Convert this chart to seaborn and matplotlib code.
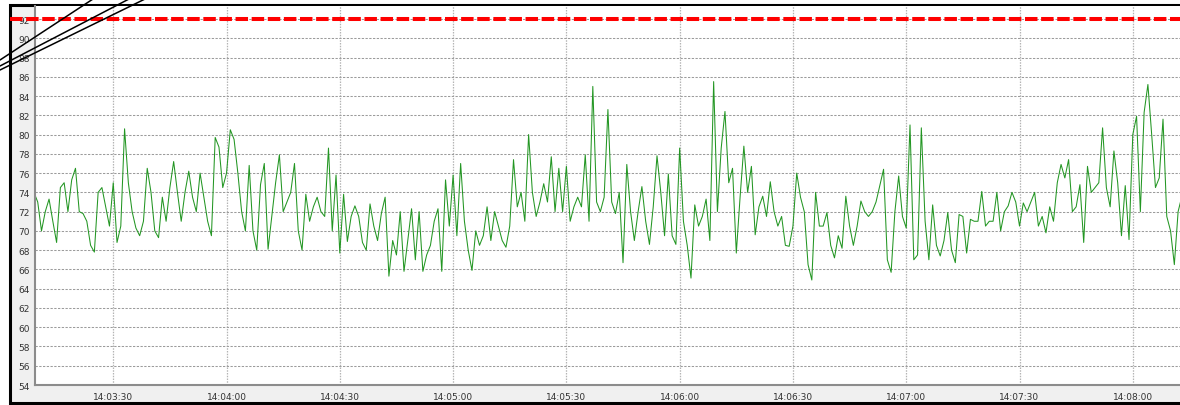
import numpy as np
import pandas as pd
import matplotlib
matplotlib.use("Agg")
import matplotlib.pyplot as plt
import matplotlib.dates as mdates
from matplotlib.patches import Rectangle
from matplotlib.lines import Line2D
import seaborn as sns

# readings, one per second, starting 14:03:09
start_time = "2024-01-01 14:03:09"
min_03 = [74, 73, 70, 72, 73.3, 71, 68.8, 74.5, 75, 72, 75.3, 76.5, 72, 71.8, 71, 68.5,
          67.8, 74, 74.5, 72.5, 70.5, 75, 68.8, 70.5, 80.6, 75, 72, 70.3, 69.5, 71, 76.5,
          74, 70, 69.3, 73.5, 71, 74.5, 77.2, 74, 71, 74, 76.2, 73.5, 72, 76, 73.5, 71,
          69.5, 79.7, 78.7, 74.5]
min_04 = [76, 80.5, 79.5, 76, 72, 70, 76.8, 70, 68, 74.8, 77, 68.1, 71.5, 75, 77.9, 72,
          73, 74, 77, 70, 68, 73.8, 71, 72.5, 73.5, 72, 71.5, 78.6, 70, 75.8, 67.7, 73.8,
          68.9, 71.5, 72.6, 71.5, 68.8, 68, 72.8, 70.5, 69, 71.8, 73.5, 65.3, 69, 67.5,
          72, 65.8, 69, 72.3, 67, 72, 65.8, 67.5, 68.5, 71, 72.3, 65.8, 75.3, 70.5]
min_05 = [75.8, 69.5, 77, 71, 68, 65.9, 70, 68.5, 69.5, 72.5, 69, 72, 70.5, 69, 68.3,
          70.5, 77.4, 72.5, 74, 71, 80, 74, 71.5, 73, 74.9, 73, 77.7, 72, 76.5, 72, 76.7,
          71, 72.5, 73.5, 72.5, 77.9, 71, 85, 73, 72, 73.5, 82.6, 73, 71.8, 74, 66.7,
          76.9, 72, 69, 72, 74.6, 71, 68.6, 72.5, 77.8, 74, 69.5, 75.9, 69.5, 68.6]
min_06 = [78.6, 71, 68.5, 65.1, 72.7, 70.5, 71.5, 73.3, 69, 85.5, 72, 78.6, 82.4, 75,
          76.5, 67.7, 73.5, 78.8, 74, 76.7, 69.6, 72.5, 73.6, 71.5, 75.1, 72, 70.5, 71.5,
          68.5, 68.4, 70.5, 76, 73.5, 72, 66.5, 64.9, 74, 70.5, 70.5, 71.9, 68.5, 67.2,
          69.5, 68.2, 73.6, 70.5, 68.5, 70.5, 73.1, 72, 71.5, 72, 73, 74.7, 76.4, 67,
          65.7, 72, 75.7, 71.5]
min_07 = [70.3, 81, 67, 67.5, 80.7, 71, 67, 72.7, 68.5, 67.4, 69, 71.9, 68, 66.7, 71.7,
          71.5, 67.7, 71.2, 71, 71, 74.1, 70.5, 71, 71, 74, 70, 72, 72.6, 74, 73, 70.5,
          72.9, 72, 73, 74, 70.5, 71.5, 69.8, 72.5, 71, 75, 76.9, 75.5, 77.4, 72, 72.5,
          74.8, 68.8, 76.7, 74, 74.5, 75, 80.7, 74.5, 72.5, 78.3, 75, 69.5, 74.7, 69.1]
min_08 = [80, 81.9, 72, 82.3, 85.2, 80, 74.5, 75.5, 81.6, 71.5, 70, 66.5, 72, 73.6]

limit_value = 92
y_ticks = list(range(54, 93, 2))

values = min_03 + min_04 + min_05 + min_06 + min_07 + min_08
times = pd.date_range(start_time, periods=len(values), freq="1s")
df = pd.DataFrame({"time": times, "value": values})

sns.set_style("white")
plt.rcParams['font.family'] = ['DejaVu Sans']

W, H = 1180, 406
fig = plt.figure(figsize=(W / 100, H / 100), dpi=100)

# window frame with gray margins
fig.add_artist(Rectangle((10 / W, 2 / H), 1.2, (H - 8) / H, transform=fig.transFigure,
                         facecolor="#f0f0f0", edgecolor="black", linewidth=2.2, zorder=0))

ax = fig.add_axes([35 / W, (H - 386) / H, (W - 35) / W, (386 - 7) / H])
ax.set_facecolor("white")

sns.lineplot(data=df, x="time", y="value", ax=ax, color="#239623", linewidth=0.75)

ax.axhline(limit_value, xmin=-0.022, xmax=1, color="red", linewidth=2.9,
           linestyle=(0, (3.1, 0.9)), clip_on=False, zorder=5)

t0 = pd.Timestamp("2024-01-01 14:03:09.28")
t1 = pd.Timestamp("2024-01-01 14:08:12.5")
ax.set_xlim(t0, t1)
ax.set_ylim(54, 93.35)
ax.set_yticks(y_ticks)
ax.xaxis.set_major_locator(mdates.SecondLocator(bysecond=[0, 30]))
ax.xaxis.set_major_formatter(mdates.DateFormatter("%H:%M:%S"))

ax.yaxis.grid(True, color="#9c9c9c", linestyle=(0, (2.2, 1.4)), linewidth=0.75)
ax.xaxis.grid(True, color="#b4b4b4", linestyle=(0, (1.2, 1.0)), linewidth=0.9)
ax.set_axisbelow(True)
ax.set_xlabel("")
ax.set_ylabel("")

for side in ["top", "right"]:
    ax.spines[side].set_visible(False)
for side in ["left", "bottom"]:
    ax.spines[side].set_color("#8c8c8c")
    ax.spines[side].set_linewidth(1.5)

ax.tick_params(axis="y", labelsize=6.5, colors="#555555", labelcolor="#333333",
               length=3, width=0.8, pad=1)
ax.tick_params(axis="x", labelsize=6.5, colors="#555555", labelcolor="#333333",
               direction="inout", length=6, width=0.8, pad=2)

# stray diagonal strokes in the top left corner
for x_end, y_start in [(93, 61), (129, 67), (145, 71)]:
    fig.add_artist(Line2D([0, x_end / W], [1 - y_start / H, 1], transform=fig.transFigure,
                          color="black", linewidth=1.1, zorder=10))

fig.savefig("out.png", dpi=100)
